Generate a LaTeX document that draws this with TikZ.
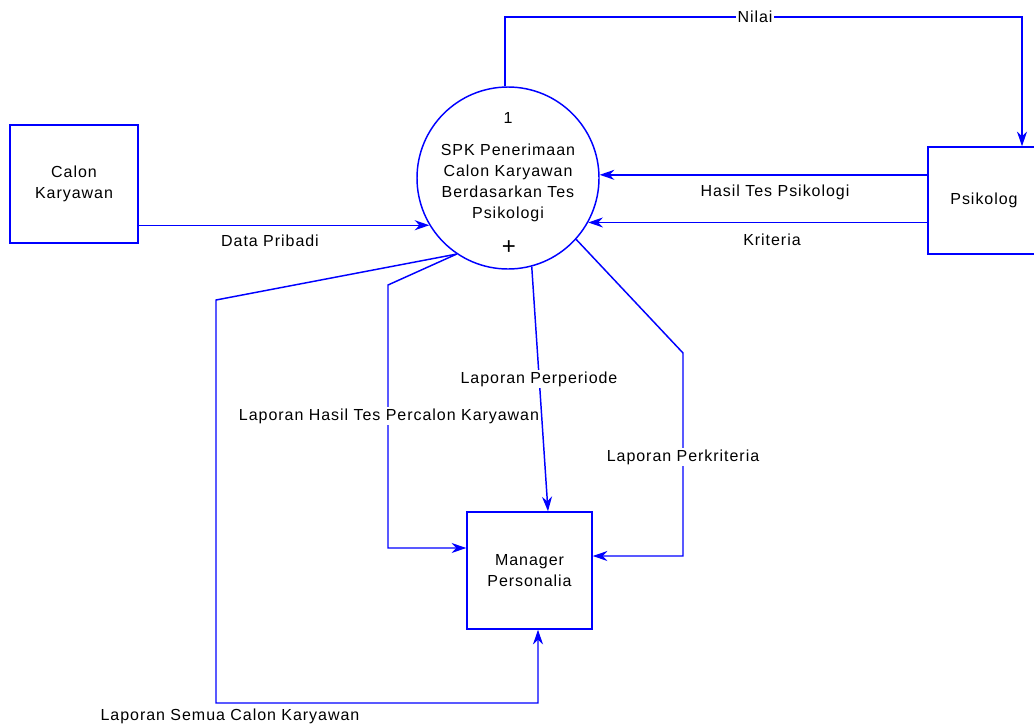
\documentclass[tikz,border=0pt]{standalone}
\usepackage{fontspec}
\setmainfont{Liberation Sans}[LetterSpace=6]
\usetikzlibrary{positioning,arrows.meta}
\definecolor{dfdblue}{RGB}{0,0,255}
\tikzset{
  ent/.style={draw=dfdblue,line width=1.1pt,fill=white,align=center,inner sep=0pt},
  proc/.style={draw=dfdblue,line width=1.1pt,circle,minimum size=136.5pt,inner sep=0pt},
  arr/.style={-{Stealth[length=11pt,width=7.5pt,inset=3.5pt]},line width=1.1pt,draw=dfdblue},
  lbl/.style={inner sep=1pt,text=black},
  onlbl/.style={lbl,fill=white},
}

\begin{document}
\begin{tikzpicture}[x=0.75pt,y=-0.75pt,font=\fontsize{12}{15.75}\selectfont]
  \useasboundingbox (0,0) rectangle (1034,725);
  % external entities and process
  \node[ent,minimum width=96pt,minimum height=88.5pt] (cal) at (74,184) {Calon\\Karyawan};
  \node[ent,minimum width=84pt,minimum height=80.25pt] (psi) at (984,200.5) {Psikolog};
  \node[ent,minimum width=93.75pt,minimum height=87.75pt] (mgr) at (529.5,570.5) {Manager\\Personalia};
  \node[proc] (p1) at (508,178) {};
  \node[lbl,align=center] (p1txt) at (508,183) {SPK Penerimaan\\Calon Karyawan\\Berdasarkan Tes\\Psikologi};
  \node[lbl] (p1no) at (508,118) {1};
  \node[lbl,font=\fontsize{18}{18}\selectfont] (p1plus) at (509,248) {+};

  \coordinate (nr) at (1022,17);
  \coordinate (sA) at (216,300);
  \coordinate (sB) at (538,703);
  \coordinate (cA) at (388,285);
  \coordinate (cB) at (388,548);
  \coordinate (pB) at (548,0);
  \coordinate (kA) at (683,353);
  \coordinate (kB) at (683,556);

  % data flows
  \draw[arr] (cal.east |- p1.211.8) -- (p1.211.8);
  \draw[arr] (p1.92) |- (nr) -- (nr |- psi.north);
  \draw[arr] (psi.west |- p1.2) -- (p1.2);
  \draw[arr] (psi.west |- p1.331) -- (p1.331);
  \draw[arr] (p1.236) -- (sA) |- (sB) -- (sB |- mgr.south);
  \draw[arr] (p1.236) -- (cA) -- (cB) -- (cB -| mgr.west);
  \draw[arr] (p1.285) -- (pB |- mgr.north);
  \draw[arr] (p1.318) -- (kA) -- (kB) -- (kB -| mgr.east);

  % flow labels
  \node[lbl] (lDat) at (270,241) {Data Pribadi};
  \node[onlbl] (lNil) at (755,17) {Nilai};
  \node[lbl] (lHas) at (775,192) {Hasil Tes Psikologi};
  \node[lbl] (lKri) at (772,240) {Kriteria};
  \node[onlbl] (lPer) at (539,379) {Laporan Perperiode};
  \node[onlbl] (lPca) at (389,416) {Laporan Hasil Tes Percalon Karyawan};
  \node[onlbl] (lPkr) at (683,457) {Laporan Perkriteria};
  \node[lbl] (lSem) at (230,716) {Laporan Semua Calon Karyawan};
\end{tikzpicture}
\end{document}
